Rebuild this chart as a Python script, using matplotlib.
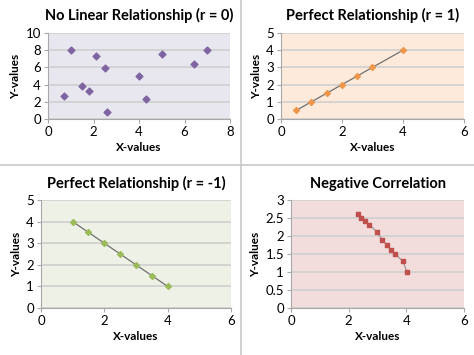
import matplotlib.pyplot as plt
from matplotlib.lines import Line2D

plt.rcParams['font.family'] = ['Lato', 'DejaVu Sans']

# Data
x1 = [0.7, 1.0, 1.5, 1.8, 2.1, 2.5, 2.6, 4.0, 4.3, 5.0, 6.4, 7.0]
y1 = [2.7, 8.0, 3.8, 3.2, 7.3, 5.9, 0.8, 5.0, 2.3, 7.5, 6.4, 8.0]

x2 = [0.5, 1.0, 1.5, 2.0, 2.5, 3.0, 4.0]
y2 = [0.5, 1.0, 1.5, 2.0, 2.5, 3.0, 4.0]

x3 = [1.0, 1.5, 2.0, 2.5, 3.0, 3.5, 4.0]
y3 = [4.0, 3.5, 3.0, 2.5, 2.0, 1.5, 1.0]

x4 = [2.32, 2.43, 2.58, 2.72, 2.97, 3.15, 3.32, 3.46, 3.59, 3.88, 4.02]
y4 = [2.61, 2.50, 2.42, 2.31, 2.12, 1.90, 1.75, 1.61, 1.51, 1.30, 1.00]

fig = plt.figure(figsize=(4.74, 3.55), dpi=100)
fig.patch.set_facecolor('white')


def style_axes(ax, title, bg, xmax, ymax, ystep):
    ax.set_facecolor(bg)
    ax.set_xlim(0, xmax)
    ax.set_ylim(0, ymax)
    ax.set_xticks(range(0, xmax + 1, 2))
    yt = []
    v = 0
    while v <= ymax + 1e-9:
        yt.append(v)
        v += ystep
    ax.set_yticks(yt)
    if ystep < 1:
        ax.set_yticklabels([('%g' % t) for t in yt])
    ax.grid(axis='y', color='#cfcfcf', lw=1.2)
    ax.set_axisbelow(True)
    for s in ['top', 'right']:
        ax.spines[s].set_visible(False)
    for s in ['left', 'bottom']:
        ax.spines[s].set_color('#a8a8a8')
        ax.spines[s].set_linewidth(0.8)
    ax.tick_params(labelsize=9.5, length=3, color='#a8a8a8', pad=2)
    ax.set_title(title, fontsize=10.5, fontweight='bold', pad=9)
    ax.set_xlabel('X-values', fontsize=8.5, fontweight='bold', labelpad=3)
    ax.set_ylabel('Y-values', fontsize=8.5, fontweight='bold', labelpad=3)


ax1 = fig.add_axes([0.1013, 0.6648, 0.384, 0.2423])
style_axes(ax1, 'No Linear Relationship (r = 0)', '#e8e6ef', 8, 10, 2)
ax1.scatter(x1, y1, marker='D', s=12, color='#7f64a2', zorder=3)

ax2 = fig.add_axes([0.5928, 0.6648, 0.386, 0.2423])
style_axes(ax2, 'Perfect Relationship (r = 1)', '#fdeadb', 6, 5, 1)
ax2.plot(x2, y2, color='#707070', lw=0.9, zorder=2)
ax2.scatter(x2, y2, marker='D', s=9, color='#f0964a', zorder=3)

ax3 = fig.add_axes([0.0865, 0.1324, 0.4008, 0.3042])
style_axes(ax3, 'Perfect Relationship (r = -1)', '#eef1e5', 6, 5, 1)
ax3.plot(x3, y3, color='#707070', lw=0.9, zorder=2)
ax3.scatter(x3, y3, marker='D', s=9, color='#9bbb59', zorder=3)

ax4 = fig.add_axes([0.614, 0.1324, 0.365, 0.3042])
style_axes(ax4, 'Negative Correlation', '#f2dddc', 6, 3, 0.5)
ax4.plot(x4, y4, color='#909090', lw=0.8, zorder=2)
ax4.scatter(x4, y4, marker='s', s=10, color='#c0504d', zorder=3)

# panel dividers
fig.add_artist(Line2D([241 / 474, 241 / 474], [0, 1], color='#c8c8c8', lw=1.2))
fig.add_artist(Line2D([0, 1], [1 - 165 / 355, 1 - 165 / 355], color='#c8c8c8', lw=1.2))

fig.savefig('out.png', dpi=100)
